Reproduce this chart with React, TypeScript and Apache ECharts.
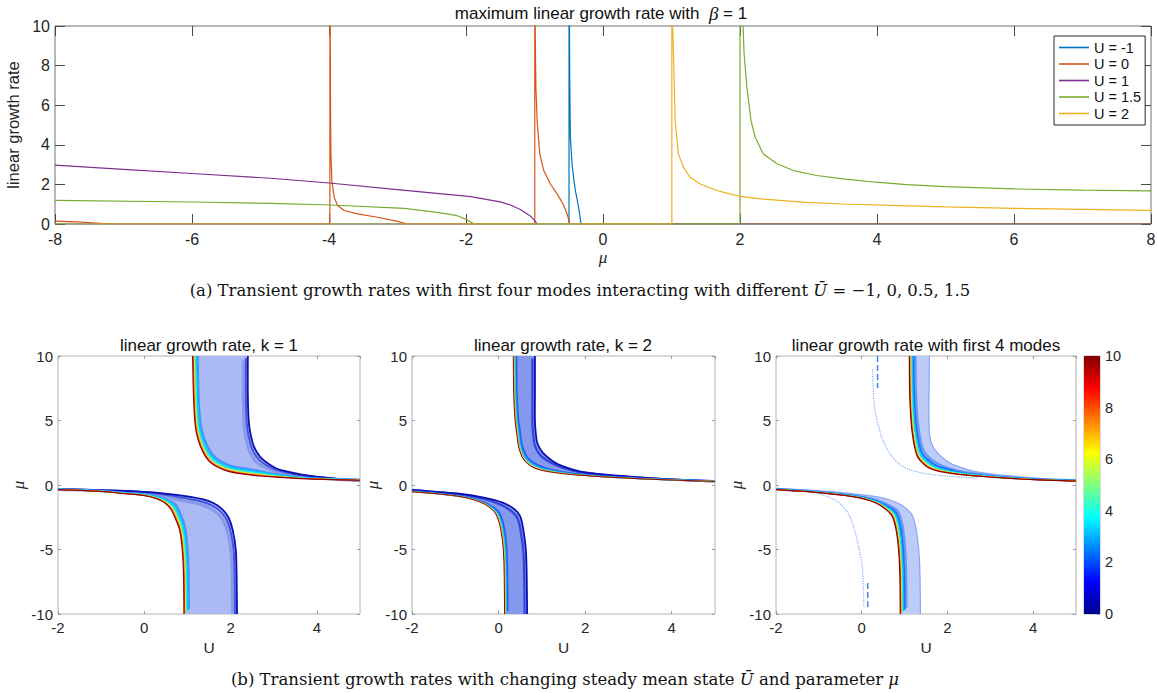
import React, { useEffect, useRef } from "react";
import * as echarts from "echarts";

// ---------- (a) maximum linear growth rate, beta = 1 : [mu, rate] ----------
const legendNames = ["U = -1", "U = 0", "U = 1", "U = 1.5", "U = 2"];
const lineColors = ["#0072BD", "#D95319", "#7E2F8E", "#77AC30", "#EDB120"];

const rateUm1 = [[-8, 0], [-0.496, 0], [-0.496, 40], [-0.49, 10], [-0.485, 6.9], [-0.476, 4.39], [-0.452, 3.04], [-0.425, 2.2], [-0.403, 1.69], [-0.365, 1.01], [-0.34, 0.51], [-0.326, 0.08], [-0.323, 0], [8, 0]];
const rateU0 = [[-8, 0.15], [-7.68, 0.11], [-7.4, 0.05], [-7.18, 0], [-3.987, 0], [-3.987, 40], [-3.982, 10], [-3.977, 5.5], [-3.972, 3.54], [-3.958, 2.19], [-3.924, 1.35], [-3.875, 0.93], [-3.778, 0.68], [-3.584, 0.51], [-3.292, 0.34], [-3.05, 0.17], [-2.904, 0.05], [-2.88, 0], [-0.996, 0], [-0.996, 40], [-0.99, 10], [-0.98, 6.92], [-0.962, 5.23], [-0.923, 3.54], [-0.865, 2.7], [-0.768, 2.02], [-0.67, 1.52], [-0.583, 1.01], [-0.524, 0.51], [-0.49, 0.08], [-0.485, 0], [8, 0]];
const rateU1 = [[-8, 2.97], [-7, 2.76], [-6, 2.55], [-4.85, 2.31], [-4, 2.07], [-3, 1.74], [-1.93, 1.38], [-1.5, 1.12], [-1.35, 0.96], [-1.2, 0.72], [-1.06, 0.4], [-1.0, 0.18], [-0.96, 0]];
const rateU15 = [[-8, 1.19], [-6, 1.11], [-4.85, 1.04], [-3.97, 0.96], [-2.9, 0.79], [-2.42, 0.59], [-2.13, 0.42], [-1.99, 0.22], [-1.88, 0], [2.0, 0], [2.0, 40], [2.045, 10], [2.06, 8.6], [2.1, 6.92], [2.16, 5.23], [2.22, 4.39], [2.34, 3.54], [2.54, 3.04], [2.78, 2.7], [3.12, 2.45], [3.5, 2.28], [3.99, 2.11], [4.43, 1.99], [5, 1.89], [6, 1.77], [7, 1.71], [8, 1.67]];
const rateU2 = [[-8, 0], [1.005, 0], [1.005, 40], [1.015, 10], [1.029, 8.6], [1.053, 5.23], [1.1, 3.54], [1.175, 2.87], [1.27, 2.36], [1.42, 2.02], [1.66, 1.69], [1.85, 1.52], [2.0, 1.4], [2.34, 1.26], [2.97, 1.09], [3.5, 1.01], [4.33, 0.93], [5, 0.86], [6, 0.79], [7, 0.74], [8, 0.69]];
const topSeriesData = [rateUm1, rateU0, rateU1, rateU15, rateU2];

// ---------- (b) contour bands : [U, mu] ----------
// k = 1
const k1UpperInner = [[1.12, 10], [1.14, 7], [1.17, 5], [1.21, 4], [1.3, 3], [1.42, 2.2], [1.55, 1.7], [1.72, 1.35], [1.95, 1.05], [2.4, 0.8], [3.05, 0.61], [3.8, 0.47], [5, 0.37]];
const k1UpperOuter = [[2.4, 10], [2.4, 7], [2.42, 5], [2.46, 4], [2.54, 3], [2.68, 2.2], [2.85, 1.7], [3.05, 1.3], [3.3, 1.05], [3.65, 0.8], [4.1, 0.6], [4.55, 0.46], [5, 0.38]];
const k1LowerInner = [[-2, -0.36], [-1.0, -0.5], [-0.5, -0.66], [0, -0.82], [0.3, -1.08], [0.5, -1.45], [0.62, -1.9], [0.72, -2.6], [0.82, -3.5], [0.88, -5], [0.91, -7], [0.92, -10]];
const k1LowerOuter = [[-2, -0.3], [-1, -0.4], [0, -0.53], [0.6, -0.7], [1.0, -0.88], [1.35, -1.1], [1.6, -1.4], [1.8, -1.85], [1.95, -2.5], [2.05, -3.5], [2.12, -5], [2.14, -7], [2.15, -10]];
// k = 2
const k2UpperInner = [[0.34, 10], [0.35, 7], [0.38, 5], [0.42, 4], [0.46, 3], [0.54, 2.2], [0.65, 1.7], [0.84, 1.3], [1.11, 1.05], [1.72, 0.8], [2.64, 0.59], [3.79, 0.41], [5, 0.28]];
const k2UpperOuter = [[0.84, 10], [0.84, 7], [0.84, 5], [0.86, 4], [0.9, 3.2], [1.03, 2.47], [1.26, 1.83], [1.49, 1.44], [1.87, 1.06], [2.49, 0.8], [3.25, 0.59], [4.17, 0.41], [5, 0.3]];
const k2LowerInner = [[-2, -0.52], [-1.42, -0.68], [-0.8, -0.95], [-0.38, -1.39], [-0.15, -1.91], [-0.04, -2.42], [0.05, -3.45], [0.11, -5], [0.13, -7], [0.14, -10]];
const k2LowerOuter = [[-2, -0.38], [-0.96, -0.66], [-0.34, -0.98], [0.11, -1.39], [0.38, -1.91], [0.5, -2.42], [0.57, -3.45], [0.63, -5], [0.65, -7], [0.66, -10]];
// first 4 modes
const m4UpperInner = [[1.11, 10], [1.12, 7], [1.15, 5], [1.18, 4], [1.23, 3], [1.3, 2.2], [1.42, 1.7], [1.58, 1.3], [1.81, 1.05], [2.31, 0.8], [3.09, 0.59], [4.02, 0.41], [5, 0.3]];
const m4UpperOuter = [[1.58, 10], [1.57, 7], [1.57, 5], [1.58, 4], [1.63, 3.2], [1.77, 2.47], [2.0, 1.83], [2.24, 1.44], [2.62, 1.06], [3.17, 0.8], [3.87, 0.59], [4.49, 0.41], [5, 0.32]];
const m4LowerInner = [[-2, -0.36], [-1.26, -0.52], [-0.64, -0.72], [-0.05, -1.0], [0.33, -1.39], [0.57, -1.91], [0.71, -2.42], [0.8, -3.45], [0.86, -5], [0.89, -7], [0.9, -10]];
const m4LowerOuter = [[-2, -0.3], [-0.79, -0.5], [-0.09, -0.72], [0.45, -0.98], [0.84, -1.39], [1.07, -1.91], [1.19, -2.42], [1.27, -3.45], [1.33, -5], [1.36, -7], [1.37, -10]];
const m4FaintUpper = [[0.25, 9], [0.3, 6], [0.44, 4.0], [0.56, 3.0], [0.71, 2.2], [0.9, 1.57], [1.13, 1.18], [1.52, 0.87], [2.05, 0.67], [2.7, 0.55]];
const m4FaintUpperDash = [[0.37, 10], [0.37, 7.5]];
const m4FaintLower = [[-2, -0.32], [-1.4, -0.4], [-0.63, -1.14], [-0.32, -2.17], [-0.17, -3.46], [-0.06, -5.0], [0.02, -6.55], [0.05, -9.5]];
const m4FaintLowerDash = [[0.14, -7.6], [0.14, -9.5]];

const colorbarTicks = [0, 2, 4, 6, 8, 10];
const jetStops = [
  { offset: 0, color: "#00008f" },
  { offset: 0.125, color: "#0000ff" },
  { offset: 0.375, color: "#00ffff" },
  { offset: 0.625, color: "#ffff00" },
  { offset: 0.875, color: "#ff0000" },
  { offset: 1, color: "#800000" },
];

const SANS = "Liberation Sans, Arial, Helvetica, sans-serif";
const SERIF = "Liberation Serif, Times New Roman, serif";
const CAPTION = "DejaVu Serif, Liberation Serif, serif";

type Stroke = { d: number; color: string; width: number };
type BandStyle = { fill: string; outer: Stroke[]; inner: Stroke[] };

function segDist(p: number[], a: number[], b: number[]) {
  const dx = b[0] - a[0];
  const dy = b[1] - a[1];
  const l2 = dx * dx + dy * dy;
  let t = l2 > 0 ? ((p[0] - a[0]) * dx + (p[1] - a[1]) * dy) / l2 : 0;
  t = Math.max(0, Math.min(1, t));
  return Math.hypot(p[0] - (a[0] + t * dx), p[1] - (a[1] + t * dy));
}
function polyDist(p: number[], line: number[][]) {
  let m = Infinity;
  for (let i = 0; i + 1 < line.length; i++) m = Math.min(m, segDist(p, line[i], line[i + 1]));
  return m;
}
// smooth cubic path through pixel points (tangent along neighbours, length-scaled handles)
function smoothPath(pts: number[][], move: boolean) {
  const n = pts.length;
  const f = (v: number) => v.toFixed(2);
  let d = (move ? "M" : "L") + f(pts[0][0]) + " " + f(pts[0][1]);
  const dir = pts.map((_, i) => {
    const a = pts[Math.max(0, i - 1)];
    const b = pts[Math.min(n - 1, i + 1)];
    const dx = b[0] - a[0];
    const dy = b[1] - a[1];
    const l = Math.hypot(dx, dy) || 1;
    return [dx / l, dy / l];
  });
  for (let i = 0; i < n - 1; i++) {
    const p = pts[i];
    const q = pts[i + 1];
    const len = Math.hypot(q[0] - p[0], q[1] - p[1]) / 3;
    d += ` C${f(p[0] + dir[i][0] * len)} ${f(p[1] + dir[i][1] * len)} ${f(q[0] - dir[i + 1][0] * len)} ${f(q[1] - dir[i + 1][1] * len)} ${f(q[0])} ${f(q[1])}`;
  }
  return d;
}

function makeBand(branches: { inner: number[][]; outer: number[][] }[], st: BandStyle) {
  return (params: any, api: any) => {
    const b = branches[params.dataIndex];
    const cs = params.coordSys;
    const pi = b.inner.map((p) => api.coord(p));
    const po = b.outer.map((p) => api.coord(p));
    const si = pi.map((p: number[]) => Math.max(0.12, Math.min(1, polyDist(p, po) / 16)));
    const so = po.map((p: number[]) => Math.max(0.12, Math.min(1, polyDist(p, pi) / 16)));
    const children: any[] = [
      {
        type: "path",
        shape: { pathData: smoothPath(pi, true) + " " + smoothPath(po.slice().reverse(), false) + " Z" },
        style: { fill: st.fill, stroke: null },
      },
    ];
    st.outer.forEach((o) =>
      children.push({
        type: "path",
        shape: { pathData: smoothPath(po.map((q: number[], j: number) => [q[0] - o.d * so[j], q[1] + o.d * so[j]]), true) },
        style: { stroke: o.color, lineWidth: o.width, fill: null },
      })
    );
    st.inner.forEach((o) =>
      children.push({
        type: "path",
        shape: { pathData: smoothPath(pi.map((q: number[], j: number) => [q[0] + o.d * si[j], q[1] - o.d * si[j]]), true) },
        style: { stroke: o.color, lineWidth: o.width, fill: null },
      })
    );
    return {
      type: "group",
      clipPath: { type: "rect", shape: { x: cs.x, y: cs.y, width: cs.width, height: cs.height } },
      children,
    };
  };
}

const styleK1: BandStyle = {
  fill: "#abbaf4",
  outer: [
    { d: 4.5, color: "#8898ec", width: 3 },
    { d: 2, color: "#4555d8", width: 2 },
    { d: 0, color: "#0a0fb4", width: 1.8 },
  ],
  inner: [
    { d: 5, color: "#4a90ff", width: 2 },
    { d: 3.8, color: "#00c4ff", width: 1.5 },
    { d: 2.8, color: "#00f0f0", width: 1.2 },
    { d: 2, color: "#90f060", width: 1 },
    { d: 1.3, color: "#f8e800", width: 1 },
    { d: 0.6, color: "#ff3a00", width: 1 },
    { d: 0, color: "#9a0000", width: 1.2 },
  ],
};
const styleK2: BandStyle = {
  fill: "#8499ee",
  outer: [
    { d: 2.5, color: "#3345d8", width: 2.2 },
    { d: 0, color: "#0a0fb4", width: 1.8 },
  ],
  inner: [
    { d: 3, color: "#2a5cf0", width: 2 },
    { d: 2, color: "#00b8ff", width: 1.2 },
    { d: 1.3, color: "#40e0c0", width: 1 },
    { d: 0.7, color: "#e0d000", width: 0.9 },
    { d: 0, color: "#9a0000", width: 1 },
  ],
};
const styleM4: BandStyle = {
  fill: "#bccbf8",
  outer: [{ d: 0, color: "#8aa4f4", width: 1.2 }],
  inner: [
    { d: 6, color: "#6a98f6", width: 2.5 },
    { d: 4.3, color: "#1f6cff", width: 1.8 },
    { d: 3.2, color: "#00b0ff", width: 1.4 },
    { d: 2.4, color: "#00f0f0", width: 1.2 },
    { d: 1.6, color: "#a0f050", width: 1 },
    { d: 1.0, color: "#ffe000", width: 1 },
    { d: 0.5, color: "#ff3000", width: 1 },
    { d: 0, color: "#8a0000", width: 1.2 },
  ],
};

function buildOption() {
  const topGrid = { left: 55, top: 26, width: 1096, height: 198 };
  const bGrids = [
    { left: 58, top: 356, width: 302, height: 258 },
    { left: 412, top: 356, width: 303, height: 258 },
    { left: 776, top: 356, width: 300, height: 258 },
  ];
  const cbGrid = { left: 1084, top: 356, width: 16, height: 258 };

  const grids = [topGrid, ...bGrids, cbGrid].map((g, i) => ({
    ...g,
    containLabel: false,
    outerBoundsMode: "none",
    show: true,
    borderColor: i === 0 ? "#6e6e6e" : "#b4b4b4",
    borderWidth: 1,
    backgroundColor: "transparent",
  }));

  const xAxes: any[] = [];
  const yAxes: any[] = [];

  const mkX = (gi: number, min: number, max: number, interval: number, pos: string, main: boolean, tickLen: number, tickColor: string, extra: any = {}) => ({
    type: "value",
    gridIndex: gi,
    min,
    max,
    interval,
    position: pos,
    axisLine: { show: false, onZero: false },
    splitLine: { show: false },
    axisTick: { show: true, inside: true, length: tickLen, lineStyle: { color: tickColor, width: 1 } },
    axisLabel: main
      ? { show: true, color: "#262626", fontFamily: SANS, fontSize: gi === 0 ? 16 : 15, margin: gi === 0 ? 7 : 6, showMaxLabel: gi === 0 ? true : false }
      : { show: false },
    ...extra,
  });
  const mkY = (gi: number, min: number, max: number, interval: number, pos: string, main: boolean, tickLen: number, tickColor: string, extra: any = {}) => ({
    type: "value",
    gridIndex: gi,
    min,
    max,
    interval,
    position: pos,
    axisLine: { show: false, onZero: false },
    splitLine: { show: false },
    axisTick: { show: true, inside: true, length: tickLen, lineStyle: { color: tickColor, width: 1 } },
    axisLabel: main ? { show: true, color: "#262626", fontFamily: SANS, fontSize: gi === 0 ? 16 : 15, margin: 5 } : { show: false },
    ...extra,
  });

  // top plot
  xAxes.push(
    mkX(0, -8, 8, 2, "bottom", true, 10, "#4a4a4a", {
      name: "μ",
      nameLocation: "middle",
      nameGap: 25,
      nameTextStyle: { fontFamily: SERIF, fontStyle: "italic", fontSize: 17, color: "#262626" },
    })
  );
  xAxes.push(mkX(0, -8, 8, 2, "top", false, 10, "#4a4a4a"));
  yAxes.push(
    mkY(0, 0, 10, 2, "left", true, 10, "#4a4a4a", {
      name: "linear growth rate",
      nameLocation: "middle",
      nameGap: 23,
      nameTextStyle: { fontFamily: SANS, fontSize: 16.5, color: "#262626" },
    })
  );
  yAxes.push(mkY(0, 0, 10, 2, "right", false, 10, "#4a4a4a"));

  // bottom plots
  for (let i = 0; i < 3; i++) {
    const gi = i + 1;
    xAxes.push(
      mkX(gi, -2, 5, 2, "bottom", true, 3, "#9a9a9a", {
        name: "U",
        nameLocation: "middle",
        nameGap: 25,
        nameTextStyle: { fontFamily: SANS, fontSize: 15.5, color: "#262626" },
      })
    );
    xAxes.push(mkX(gi, -2, 5, 2, "top", false, 3, "#9a9a9a"));
    yAxes.push(
      mkY(gi, -10, 10, 5, "left", true, 3, "#9a9a9a", {
        name: "μ",
        nameLocation: "middle",
        nameGap: 29,
        nameRotate: 90,
        nameTextStyle: { fontFamily: SERIF, fontStyle: "italic", fontSize: 17, color: "#262626" },
      })
    );
    yAxes.push(mkY(gi, -10, 10, 5, "right", false, 3, "#9a9a9a"));
  }

  // colorbar
  xAxes.push({
    type: "category",
    gridIndex: 4,
    data: ["c"],
    show: false,
    boundaryGap: true,
  });
  yAxes.push({
    type: "value",
    gridIndex: 4,
    min: colorbarTicks[0],
    max: colorbarTicks[colorbarTicks.length - 1],
    interval: 2,
    position: "right",
    axisLine: { show: false, onZero: false },
    splitLine: { show: false },
    axisTick: { show: true, inside: true, length: 3, lineStyle: { color: "#9a9a9a" } },
    axisLabel: { show: true, color: "#262626", fontFamily: SANS, fontSize: 14.5, margin: 5 },
  });

  const series: any[] = [];
  topSeriesData.forEach((d, i) => {
    series.push({
      name: legendNames[i],
      type: "line",
      xAxisIndex: 0,
      yAxisIndex: 0,
      data: d,
      showSymbol: false,
      symbol: "none",
      lineStyle: { color: lineColors[i], width: 1.2 },
      itemStyle: { color: lineColors[i] },
      z: 2 + i,
    });
  });

  const bandSets = [
    { branches: [{ inner: k1UpperInner, outer: k1UpperOuter }, { inner: k1LowerInner, outer: k1LowerOuter }], style: styleK1 },
    { branches: [{ inner: k2UpperInner, outer: k2UpperOuter }, { inner: k2LowerInner, outer: k2LowerOuter }], style: styleK2 },
    { branches: [{ inner: m4UpperInner, outer: m4UpperOuter }, { inner: m4LowerInner, outer: m4LowerOuter }], style: styleM4 },
  ];
  bandSets.forEach((bs, i) => {
    series.push({
      name: "band" + i,
      type: "custom",
      xAxisIndex: 2 + i * 2,
      yAxisIndex: 2 + i * 2,
      data: [
        [0, 0],
        [0, 0],
      ],
      renderItem: makeBand(bs.branches, bs.style),
      z: 3,
    });
  });

  const faint = [
    { d: m4FaintUpper, type: "dotted", color: "#7fb0f5", w: 1.2 },
    { d: m4FaintLower, type: "dotted", color: "#7fb0f5", w: 1.2 },
    { d: m4FaintUpperDash, type: "dashed", color: "#3b86ee", w: 1.5 },
    { d: m4FaintLowerDash, type: "dashed", color: "#3b86ee", w: 1.5 },
  ];
  faint.forEach((f, i) => {
    series.push({
      name: "faint" + i,
      type: "line",
      xAxisIndex: 6,
      yAxisIndex: 6,
      data: f.d,
      showSymbol: false,
      symbol: "none",
      smooth: 0.3,
      lineStyle: { color: f.color, width: f.w, type: f.type },
      z: 2,
    });
  });

  series.push({
    name: "colorbar",
    type: "bar",
    xAxisIndex: 8,
    yAxisIndex: 8,
    data: [colorbarTicks[colorbarTicks.length - 1]],
    barWidth: "100%",
    barCategoryGap: "0%",
    itemStyle: { color: new echarts.graphic.LinearGradient(0, 1, 0, 0, jetStops) },
    z: 1,
  });

  const graphic: any[] = [
    {
      type: "text",
      x: 601,
      y: 13,
      style: {
        text: "maximum linear growth rate with  {b|β} = 1",
        align: "center",
        verticalAlign: "middle",
        fontFamily: SANS,
        fontSize: 17,
        fill: "#111",
        rich: { b: { fontFamily: SERIF, fontStyle: "italic", fontSize: 19, fill: "#111" } },
      },
    },
    ...[
      { x: 209, t: "linear growth rate, k = 1" },
      { x: 563, t: "linear growth rate, k = 2" },
      { x: 926, t: "linear growth rate with first 4 modes" },
    ].map((o) => ({
      type: "text",
      x: o.x,
      y: 345,
      style: { text: o.t, align: "center", verticalAlign: "middle", fontFamily: SANS, fontSize: 17, fill: "#111" },
    })),
    {
      type: "text",
      x: 580,
      y: 290,
      style: {
        text: "(a) Transient growth rates with first four modes interacting with different {i|Ū} = −1, 0, 0.5, 1.5",
        align: "center",
        verticalAlign: "middle",
        fontFamily: CAPTION,
        fontSize: 16.5,
        fill: "#111",
        rich: { i: { fontFamily: CAPTION, fontStyle: "italic", fontSize: 16.5, fill: "#111" } },
      },
    },
    {
      type: "text",
      x: 565,
      y: 679,
      style: {
        text: "(b) Transient growth rates with changing steady mean state {i|Ū} and parameter {i|μ}",
        align: "center",
        verticalAlign: "middle",
        fontFamily: CAPTION,
        fontSize: 16.5,
        fill: "#111",
        rich: { i: { fontFamily: CAPTION, fontStyle: "italic", fontSize: 16.5, fill: "#111" } },
      },
    },
  ];

  return {
    animation: false,
    backgroundColor: "#ffffff",
    grid: grids,
    xAxis: xAxes,
    yAxis: yAxes,
    legend: {
      data: legendNames,
      orient: "vertical",
      left: 1054,
      top: 36,
      padding: [4, 4, 4, 5],
      itemGap: 1.5,
      itemWidth: 30,
      itemHeight: 1.6,
      icon: "rect",
      backgroundColor: "#ffffff",
      borderColor: "#262626",
      borderWidth: 1,
      borderRadius: 0,
      textStyle: { fontFamily: SANS, fontSize: 14.5, color: "#111", padding: [0, 0, 0, 0] },
      selectedMode: false,
    },
    tooltip: { show: false },
    graphic,
    series,
  };
}

export default function App() {
  const ref = useRef<HTMLDivElement>(null);
  useEffect(() => {
    document.body.style.margin = "0";
    const chart = echarts.init(ref.current!, null, { renderer: "svg" });
    chart.setOption(buildOption() as any);
    return () => chart.dispose();
  }, []);
  return <div ref={ref} style={{ width: 1157, height: 693, background: "#fff" }} />;
}
